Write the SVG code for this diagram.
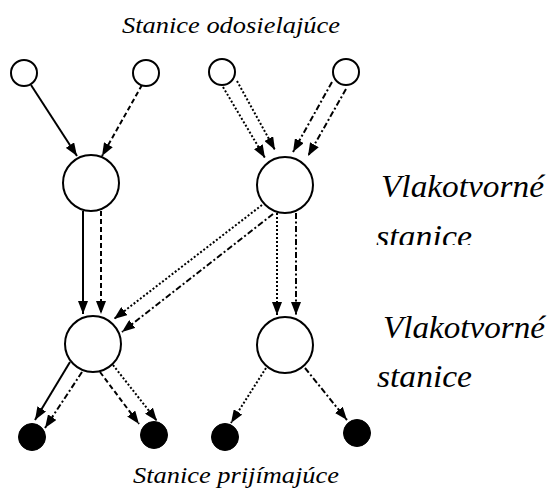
<svg xmlns="http://www.w3.org/2000/svg" width="548" height="494" viewBox="0 0 548 494">
  <style>
    .st { fill: #fff; stroke: #000; stroke-width: 2; }
    .rx { fill: #000; stroke: #000; stroke-width: 1; }
    .e { fill: none; stroke: #000; stroke-width: 2; marker-end: url(#ah); }
    .dash { stroke-dasharray: 5 3; }
    .dot { stroke-dasharray: 2 2; }
    .dd { stroke-dasharray: 6 2.5 2 2.5; }
    .lbl { font-family: "Liberation Serif", "Times New Roman", serif; font-style: italic; fill: #000; }
  </style>
  <defs>
    <marker id="ah" markerUnits="userSpaceOnUse" viewBox="0 0 13 10" markerWidth="13" markerHeight="10" refX="13" refY="5" orient="auto">
      <path d="M0,0 L13,5 L0,10 Z" fill="#000"/>
    </marker>
    <clipPath id="cut">
      <rect x="0" y="0" width="548" height="245"/>
    </clipPath>
  </defs>

  <!-- connectors -->
  <g id="connectors">
    <!-- senders to first row of train-forming stations -->
    <line class="e" x1="31" y1="85" x2="77" y2="156"/>
    <line class="e dash" x1="142" y1="85" x2="102" y2="156"/>
    <line class="e dot" x1="223" y1="87" x2="265" y2="158"/>
    <line class="e dot" x1="237" y1="81" x2="275" y2="150"/>
    <line class="e dd" x1="332" y1="82" x2="293" y2="152"/>
    <line class="e dd" x1="346" y1="89" x2="308" y2="156"/>
    <!-- first row to second row -->
    <line class="e" x1="83" y1="211" x2="83" y2="314"/>
    <line class="e dash" x1="101" y1="211" x2="101" y2="314"/>
    <line class="e dot" x1="262" y1="205" x2="114" y2="319"/>
    <line class="e dd" x1="273" y1="214" x2="122" y2="332"/>
    <line class="e dot" x1="277" y1="213" x2="277" y2="315"/>
    <line class="e dd" x1="296" y1="213" x2="296" y2="315"/>
    <!-- second row to receivers -->
    <line class="e" x1="70" y1="362" x2="35" y2="420"/>
    <line class="e dd" x1="82" y1="372" x2="45" y2="428"/>
    <line class="e dash" x1="100" y1="372" x2="139" y2="424"/>
    <line class="e dot" x1="113" y1="365" x2="157" y2="421"/>
    <line class="e dot" x1="266" y1="368" x2="231" y2="423"/>
    <line class="e dd" x1="305" y1="368" x2="347" y2="420"/>
  </g>

  <!-- sending stations -->
  <g id="s1"><circle class="st" cx="24" cy="73" r="13"/></g>
  <g id="s2"><circle class="st" cx="146" cy="73" r="13"/></g>
  <g id="s3"><circle class="st" cx="222" cy="72" r="13"/></g>
  <g id="s4"><circle class="st" cx="346" cy="72" r="13"/></g>

  <!-- train-forming stations -->
  <g id="v1"><circle class="st" cx="91" cy="183" r="28"/></g>
  <g id="v2"><circle class="st" cx="285" cy="185" r="28"/></g>
  <g id="v3"><circle class="st" cx="93" cy="344" r="28"/></g>
  <g id="v4"><circle class="st" cx="285" cy="345" r="28"/></g>

  <!-- receiving stations -->
  <g id="r1"><circle class="rx" cx="32" cy="437" r="13.5"/></g>
  <g id="r2"><circle class="rx" cx="154" cy="435" r="13.5"/></g>
  <g id="r3"><circle class="rx" cx="225" cy="437" r="13.5"/></g>
  <g id="r4"><circle class="rx" cx="357" cy="433" r="13.5"/></g>

  <!-- labels -->
  <g id="labels">
    <text class="lbl" x="122" y="33" font-size="24" textLength="218" lengthAdjust="spacingAndGlyphs">Stanice odosielajúce</text>
    <text class="lbl" x="133" y="483" font-size="24" textLength="206" lengthAdjust="spacingAndGlyphs">Stanice prijímajúce</text>
    <text class="lbl" x="381" y="197" font-size="31" textLength="163" lengthAdjust="spacingAndGlyphs">Vlakotvorné</text>
    <text class="lbl" x="376" y="247" font-size="31" textLength="96" lengthAdjust="spacingAndGlyphs" clip-path="url(#cut)">stanice</text>
    <text class="lbl" x="383" y="338" font-size="31" textLength="162" lengthAdjust="spacingAndGlyphs">Vlakotvorné</text>
    <text class="lbl" x="377" y="387" font-size="31" textLength="95" lengthAdjust="spacingAndGlyphs">stanice</text>
  </g>
</svg>
